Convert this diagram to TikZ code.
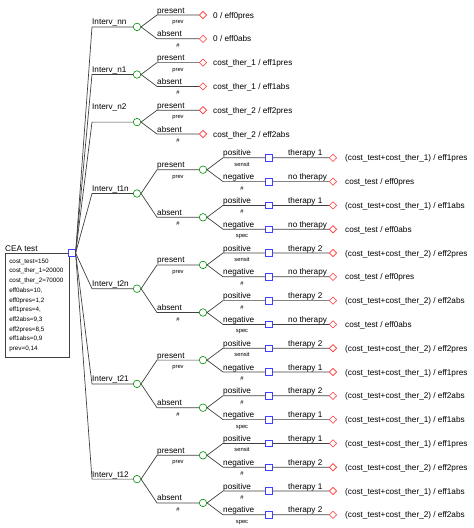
\documentclass[tikz,border=0pt]{standalone}
\usepackage{fontspec}
\setmainfont{Liberation Sans}
\usetikzlibrary{shapes.geometric}

\begin{document}
\begin{tikzpicture}[x=1pt,y=-1pt,
  decision/.style={rectangle,draw=blue!75,fill=white,line width=0.7pt,minimum size=6.5pt,inner sep=0pt},
  chance/.style={circle,draw=green!55!black,fill=white,line width=0.6pt,minimum size=7.5pt,inner sep=0pt},
  payoff/.style={diamond,draw=red!80,fill=white,line width=0.6pt,minimum width=7.5pt,minimum height=7.5pt,inner sep=0pt},
  branch/.style={draw=black!75,line width=0.7pt},
  lbl/.style={anchor=base west,inner sep=0pt,yshift=2pt,font=\fontsize{8.2}{10}\selectfont},
  prob/.style={anchor=base,inner sep=0pt,yshift=-8.5pt,font=\fontsize{5.8}{7}\selectfont},
  res/.style={anchor=base west,inner sep=0pt,yshift=-3pt,font=\fontsize{8.2}{10}\selectfont}]
\useasboundingbox (0,0) rectangle (474,528);
\node[draw=black!75,line width=0.7pt,anchor=north west,text width=56pt,inner xsep=4pt,minimum height=104pt,align=left,font=\fontsize{6.3}{9.7}\selectfont] (params) at (5,253) {cost\_test=150\\cost\_ther\_1=20000\\cost\_ther\_2=70000\\eff0abs=10,\\eff0pres=1,2\\eff1pres=4,\\eff2abs=9,3\\eff2pres=8,5\\eff1abs=0,9\\prev=0,14};
\node[decision] (root) at (72,253) {};
\node[lbl] (root-l) at (5,253) {CEA test};
\coordinate (nn-c) at (92,26.9);
\node[chance] (nn) at (137,26.9) {};
\node[lbl] (nn-l) at (nn-c) {Interv\_nn};
\draw[branch] (root.east) -- (nn-c) -- (nn);
\coordinate (nn-P-c) at (157,15.0);
\node[payoff] (nn-P) at (203,15.0) {};
\node[lbl] (nn-P-l) at (nn-P-c) {present};
\node[prob] (nn-P-q) at (178,15.0) {prev};
\node[res] (nn-P-r) at (213,15.0) {0 / eff0pres};
\draw[branch] (nn.east) -- (nn-P-c) -- (nn-P);
\coordinate (nn-A-c) at (157,38.8);
\node[payoff] (nn-A) at (203,38.8) {};
\node[lbl] (nn-A-l) at (nn-A-c) {absent};
\node[prob] (nn-A-q) at (178,38.8) {\#};
\node[res] (nn-A-r) at (213,38.8) {0 / eff0abs};
\draw[branch] (nn.east) -- (nn-A-c) -- (nn-A);
\coordinate (n1-c) at (92,74.5);
\node[chance] (n1) at (137,74.5) {};
\node[lbl] (n1-l) at (n1-c) {Interv\_n1};
\draw[branch] (root.east) -- (n1-c) -- (n1);
\coordinate (n1-P-c) at (157,62.6);
\node[payoff] (n1-P) at (203,62.6) {};
\node[lbl] (n1-P-l) at (n1-P-c) {present};
\node[prob] (n1-P-q) at (178,62.6) {prev};
\node[res] (n1-P-r) at (213,62.6) {cost\_ther\_1 / eff1pres};
\draw[branch] (n1.east) -- (n1-P-c) -- (n1-P);
\coordinate (n1-A-c) at (157,86.4);
\node[payoff] (n1-A) at (203,86.4) {};
\node[lbl] (n1-A-l) at (n1-A-c) {absent};
\node[prob] (n1-A-q) at (178,86.4) {\#};
\node[res] (n1-A-r) at (213,86.4) {cost\_ther\_1 / eff1abs};
\draw[branch] (n1.east) -- (n1-A-c) -- (n1-A);
\coordinate (n2-c) at (92,122.1);
\node[chance] (n2) at (137,122.1) {};
\node[lbl,yshift=11pt] (n2-l) at (n2-c) {Interv\_n2};
\draw[branch] (root.east) -- (n2-c) -- (n2);
\coordinate (n2-P-c) at (157,110.2);
\node[payoff] (n2-P) at (203,110.2) {};
\node[lbl] (n2-P-l) at (n2-P-c) {present};
\node[prob] (n2-P-q) at (178,110.2) {prev};
\node[res] (n2-P-r) at (213,110.2) {cost\_ther\_2 / eff2pres};
\draw[branch] (n2.east) -- (n2-P-c) -- (n2-P);
\coordinate (n2-A-c) at (157,134.0);
\node[payoff] (n2-A) at (203,134.0) {};
\node[lbl] (n2-A-l) at (n2-A-c) {absent};
\node[prob] (n2-A-q) at (178,134.0) {\#};
\node[res] (n2-A-r) at (213,134.0) {cost\_ther\_2 / eff2abs};
\draw[branch] (n2.east) -- (n2-A-c) -- (n2-A);
\coordinate (t1n-c) at (92,193.5);
\node[chance] (t1n) at (137,193.5) {};
\node[lbl] (t1n-l) at (t1n-c) {Interv\_t1n};
\draw[branch] (root.east) -- (t1n-c) -- (t1n);
\coordinate (t1n-P-c) at (157,169.7);
\node[chance] (t1n-P) at (203,169.7) {};
\node[lbl] (t1n-P-l) at (t1n-P-c) {present};
\node[prob] (t1n-P-q) at (178,169.7) {prev};
\draw[branch] (t1n.east) -- (t1n-P-c) -- (t1n-P);
\coordinate (t1n-Pp-c) at (223,157.8);
\node[decision] (t1n-Pp) at (269,157.8) {};
\node[payoff] (t1n-Pp-e) at (333,157.8) {};
\node[lbl] (t1n-Pp-l) at (t1n-Pp-c) {positive};
\node[prob] (t1n-Pp-q) at (242,157.8) {sensit};
\node[lbl] (t1n-Pp-t) at (288,157.8) {therapy 1};
\node[res] (t1n-Pp-r) at (345,157.8) {(cost\_test+cost\_ther\_1) / eff1pres};
\draw[branch] (t1n-P.east) -- (t1n-Pp-c) -- (t1n-Pp) -- (t1n-Pp-e);
\coordinate (t1n-Pn-c) at (223,181.6);
\node[decision] (t1n-Pn) at (269,181.6) {};
\node[payoff] (t1n-Pn-e) at (333,181.6) {};
\node[lbl] (t1n-Pn-l) at (t1n-Pn-c) {negative};
\node[prob] (t1n-Pn-q) at (242,181.6) {\#};
\node[lbl] (t1n-Pn-t) at (288,181.6) {no therapy};
\node[res] (t1n-Pn-r) at (345,181.6) {cost\_test / eff0pres};
\draw[branch] (t1n-P.east) -- (t1n-Pn-c) -- (t1n-Pn) -- (t1n-Pn-e);
\coordinate (t1n-A-c) at (157,217.3);
\node[chance] (t1n-A) at (203,217.3) {};
\node[lbl] (t1n-A-l) at (t1n-A-c) {absent};
\node[prob] (t1n-A-q) at (178,217.3) {\#};
\draw[branch] (t1n.east) -- (t1n-A-c) -- (t1n-A);
\coordinate (t1n-Ap-c) at (223,205.4);
\node[decision] (t1n-Ap) at (269,205.4) {};
\node[payoff] (t1n-Ap-e) at (333,205.4) {};
\node[lbl] (t1n-Ap-l) at (t1n-Ap-c) {positive};
\node[prob] (t1n-Ap-q) at (242,205.4) {\#};
\node[lbl] (t1n-Ap-t) at (288,205.4) {therapy 1};
\node[res] (t1n-Ap-r) at (345,205.4) {(cost\_test+cost\_ther\_1) / eff1abs};
\draw[branch] (t1n-A.east) -- (t1n-Ap-c) -- (t1n-Ap) -- (t1n-Ap-e);
\coordinate (t1n-An-c) at (223,229.2);
\node[decision] (t1n-An) at (269,229.2) {};
\node[payoff] (t1n-An-e) at (333,229.2) {};
\node[lbl] (t1n-An-l) at (t1n-An-c) {negative};
\node[prob] (t1n-An-q) at (242,229.2) {spec};
\node[lbl] (t1n-An-t) at (288,229.2) {no therapy};
\node[res] (t1n-An-r) at (345,229.2) {cost\_test / eff0abs};
\draw[branch] (t1n-A.east) -- (t1n-An-c) -- (t1n-An) -- (t1n-An-e);
\coordinate (t2n-c) at (92,288.7);
\node[chance] (t2n) at (137,288.7) {};
\node[lbl] (t2n-l) at (t2n-c) {Interv\_t2n};
\draw[branch] (root.east) -- (t2n-c) -- (t2n);
\coordinate (t2n-P-c) at (157,264.9);
\node[chance] (t2n-P) at (203,264.9) {};
\node[lbl] (t2n-P-l) at (t2n-P-c) {present};
\node[prob] (t2n-P-q) at (178,264.9) {prev};
\draw[branch] (t2n.east) -- (t2n-P-c) -- (t2n-P);
\coordinate (t2n-Pp-c) at (223,253.0);
\node[decision] (t2n-Pp) at (269,253.0) {};
\node[payoff] (t2n-Pp-e) at (333,253.0) {};
\node[lbl] (t2n-Pp-l) at (t2n-Pp-c) {positive};
\node[prob] (t2n-Pp-q) at (242,253.0) {sensit};
\node[lbl] (t2n-Pp-t) at (288,253.0) {therapy 2};
\node[res] (t2n-Pp-r) at (345,253.0) {(cost\_test+cost\_ther\_2) / eff2pres};
\draw[branch] (t2n-P.east) -- (t2n-Pp-c) -- (t2n-Pp) -- (t2n-Pp-e);
\coordinate (t2n-Pn-c) at (223,276.8);
\node[decision] (t2n-Pn) at (269,276.8) {};
\node[payoff] (t2n-Pn-e) at (333,276.8) {};
\node[lbl] (t2n-Pn-l) at (t2n-Pn-c) {negative};
\node[prob] (t2n-Pn-q) at (242,276.8) {\#};
\node[lbl] (t2n-Pn-t) at (288,276.8) {no therapy};
\node[res] (t2n-Pn-r) at (345,276.8) {cost\_test / eff0pres};
\draw[branch] (t2n-P.east) -- (t2n-Pn-c) -- (t2n-Pn) -- (t2n-Pn-e);
\coordinate (t2n-A-c) at (157,312.5);
\node[chance] (t2n-A) at (203,312.5) {};
\node[lbl] (t2n-A-l) at (t2n-A-c) {absent};
\node[prob] (t2n-A-q) at (178,312.5) {\#};
\draw[branch] (t2n.east) -- (t2n-A-c) -- (t2n-A);
\coordinate (t2n-Ap-c) at (223,300.6);
\node[decision] (t2n-Ap) at (269,300.6) {};
\node[payoff] (t2n-Ap-e) at (333,300.6) {};
\node[lbl] (t2n-Ap-l) at (t2n-Ap-c) {positive};
\node[prob] (t2n-Ap-q) at (242,300.6) {\#};
\node[lbl] (t2n-Ap-t) at (288,300.6) {therapy 2};
\node[res] (t2n-Ap-r) at (345,300.6) {(cost\_test+cost\_ther\_2) / eff2abs};
\draw[branch] (t2n-A.east) -- (t2n-Ap-c) -- (t2n-Ap) -- (t2n-Ap-e);
\coordinate (t2n-An-c) at (223,324.4);
\node[decision] (t2n-An) at (269,324.4) {};
\node[payoff] (t2n-An-e) at (333,324.4) {};
\node[lbl] (t2n-An-l) at (t2n-An-c) {negative};
\node[prob] (t2n-An-q) at (242,324.4) {spec};
\node[lbl] (t2n-An-t) at (288,324.4) {no therapy};
\node[res] (t2n-An-r) at (345,324.4) {cost\_test / eff0abs};
\draw[branch] (t2n-A.east) -- (t2n-An-c) -- (t2n-An) -- (t2n-An-e);
\coordinate (t21-c) at (92,383.9);
\node[chance] (t21) at (137,383.9) {};
\node[lbl] (t21-l) at (t21-c) {Interv\_t21};
\draw[branch] (root.east) -- (t21-c) -- (t21);
\coordinate (t21-P-c) at (157,360.1);
\node[chance] (t21-P) at (203,360.1) {};
\node[lbl] (t21-P-l) at (t21-P-c) {present};
\node[prob] (t21-P-q) at (178,360.1) {prev};
\draw[branch] (t21.east) -- (t21-P-c) -- (t21-P);
\coordinate (t21-Pp-c) at (223,348.2);
\node[decision] (t21-Pp) at (269,348.2) {};
\node[payoff] (t21-Pp-e) at (333,348.2) {};
\node[lbl] (t21-Pp-l) at (t21-Pp-c) {positive};
\node[prob] (t21-Pp-q) at (242,348.2) {sensit};
\node[lbl] (t21-Pp-t) at (288,348.2) {therapy 2};
\node[res] (t21-Pp-r) at (345,348.2) {(cost\_test+cost\_ther\_2) / eff2pres};
\draw[branch] (t21-P.east) -- (t21-Pp-c) -- (t21-Pp) -- (t21-Pp-e);
\coordinate (t21-Pn-c) at (223,372.0);
\node[decision] (t21-Pn) at (269,372.0) {};
\node[payoff] (t21-Pn-e) at (333,372.0) {};
\node[lbl] (t21-Pn-l) at (t21-Pn-c) {negative};
\node[prob] (t21-Pn-q) at (242,372.0) {\#};
\node[lbl] (t21-Pn-t) at (288,372.0) {therapy 1};
\node[res] (t21-Pn-r) at (345,372.0) {(cost\_test+cost\_ther\_1) / eff1pres};
\draw[branch] (t21-P.east) -- (t21-Pn-c) -- (t21-Pn) -- (t21-Pn-e);
\coordinate (t21-A-c) at (157,407.7);
\node[chance] (t21-A) at (203,407.7) {};
\node[lbl] (t21-A-l) at (t21-A-c) {absent};
\node[prob] (t21-A-q) at (178,407.7) {\#};
\draw[branch] (t21.east) -- (t21-A-c) -- (t21-A);
\coordinate (t21-Ap-c) at (223,395.8);
\node[decision] (t21-Ap) at (269,395.8) {};
\node[payoff] (t21-Ap-e) at (333,395.8) {};
\node[lbl] (t21-Ap-l) at (t21-Ap-c) {positive};
\node[prob] (t21-Ap-q) at (242,395.8) {\#};
\node[lbl] (t21-Ap-t) at (288,395.8) {therapy 2};
\node[res] (t21-Ap-r) at (345,395.8) {(cost\_test+cost\_ther\_2) / eff2abs};
\draw[branch] (t21-A.east) -- (t21-Ap-c) -- (t21-Ap) -- (t21-Ap-e);
\coordinate (t21-An-c) at (223,419.6);
\node[decision] (t21-An) at (269,419.6) {};
\node[payoff] (t21-An-e) at (333,419.6) {};
\node[lbl] (t21-An-l) at (t21-An-c) {negative};
\node[prob] (t21-An-q) at (242,419.6) {spec};
\node[lbl] (t21-An-t) at (288,419.6) {therapy 1};
\node[res] (t21-An-r) at (345,419.6) {(cost\_test+cost\_ther\_1) / eff1abs};
\draw[branch] (t21-A.east) -- (t21-An-c) -- (t21-An) -- (t21-An-e);
\coordinate (t12-c) at (92,479.1);
\node[chance] (t12) at (137,479.1) {};
\node[lbl] (t12-l) at (t12-c) {Interv\_t12};
\draw[branch] (root.east) -- (t12-c) -- (t12);
\coordinate (t12-P-c) at (157,455.3);
\node[chance] (t12-P) at (203,455.3) {};
\node[lbl] (t12-P-l) at (t12-P-c) {present};
\node[prob] (t12-P-q) at (178,455.3) {prev};
\draw[branch] (t12.east) -- (t12-P-c) -- (t12-P);
\coordinate (t12-Pp-c) at (223,443.4);
\node[decision] (t12-Pp) at (269,443.4) {};
\node[payoff] (t12-Pp-e) at (333,443.4) {};
\node[lbl] (t12-Pp-l) at (t12-Pp-c) {positive};
\node[prob] (t12-Pp-q) at (242,443.4) {sensit};
\node[lbl] (t12-Pp-t) at (288,443.4) {therapy 1};
\node[res] (t12-Pp-r) at (345,443.4) {(cost\_test+cost\_ther\_1) / eff1pres};
\draw[branch] (t12-P.east) -- (t12-Pp-c) -- (t12-Pp) -- (t12-Pp-e);
\coordinate (t12-Pn-c) at (223,467.2);
\node[decision] (t12-Pn) at (269,467.2) {};
\node[payoff] (t12-Pn-e) at (333,467.2) {};
\node[lbl] (t12-Pn-l) at (t12-Pn-c) {negative};
\node[prob] (t12-Pn-q) at (242,467.2) {\#};
\node[lbl] (t12-Pn-t) at (288,467.2) {therapy 2};
\node[res] (t12-Pn-r) at (345,467.2) {(cost\_test+cost\_ther\_2) / eff2pres};
\draw[branch] (t12-P.east) -- (t12-Pn-c) -- (t12-Pn) -- (t12-Pn-e);
\coordinate (t12-A-c) at (157,502.9);
\node[chance] (t12-A) at (203,502.9) {};
\node[lbl] (t12-A-l) at (t12-A-c) {absent};
\node[prob] (t12-A-q) at (178,502.9) {\#};
\draw[branch] (t12.east) -- (t12-A-c) -- (t12-A);
\coordinate (t12-Ap-c) at (223,491.0);
\node[decision] (t12-Ap) at (269,491.0) {};
\node[payoff] (t12-Ap-e) at (333,491.0) {};
\node[lbl] (t12-Ap-l) at (t12-Ap-c) {positive};
\node[prob] (t12-Ap-q) at (242,491.0) {\#};
\node[lbl] (t12-Ap-t) at (288,491.0) {therapy 1};
\node[res] (t12-Ap-r) at (345,491.0) {(cost\_test+cost\_ther\_1) / eff1abs};
\draw[branch] (t12-A.east) -- (t12-Ap-c) -- (t12-Ap) -- (t12-Ap-e);
\coordinate (t12-An-c) at (223,514.8);
\node[decision] (t12-An) at (269,514.8) {};
\node[payoff] (t12-An-e) at (333,514.8) {};
\node[lbl] (t12-An-l) at (t12-An-c) {negative};
\node[prob] (t12-An-q) at (242,514.8) {spec};
\node[lbl] (t12-An-t) at (288,514.8) {therapy 2};
\node[res] (t12-An-r) at (345,514.8) {(cost\_test+cost\_ther\_2) / eff2abs};
\draw[branch] (t12-A.east) -- (t12-An-c) -- (t12-An) -- (t12-An-e);
\end{tikzpicture}
\end{document}
